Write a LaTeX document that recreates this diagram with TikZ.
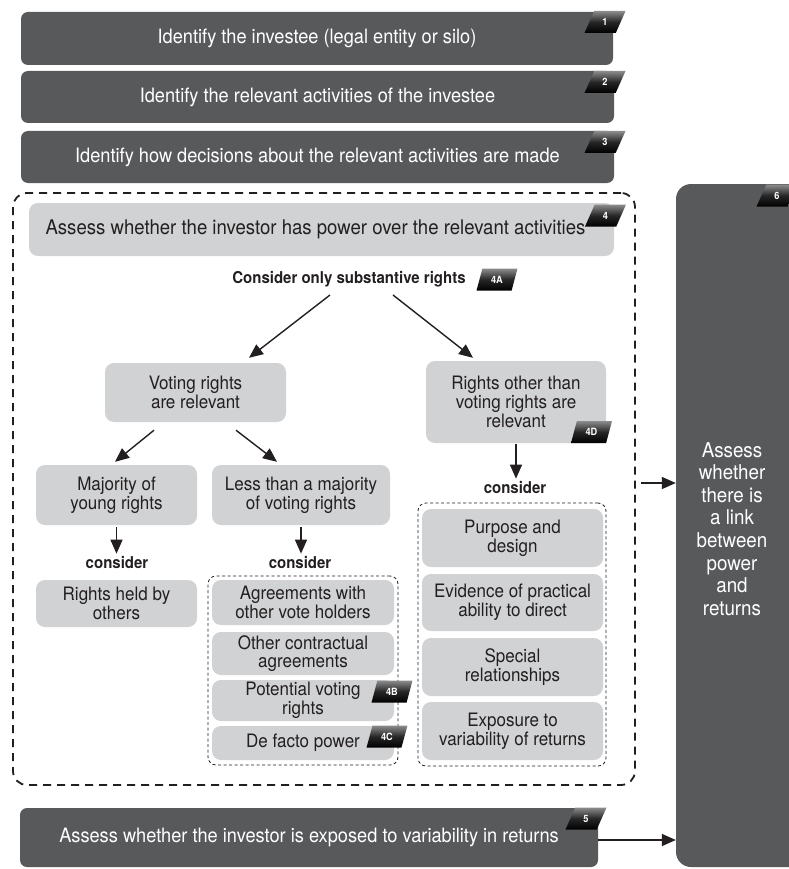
\documentclass[tikz,border=0pt]{standalone}
\usepackage{fontspec}
\setmainfont[FakeStretch=0.92]{TeX Gyre Heros}
\usetikzlibrary{arrows.meta,shapes.geometric}
\definecolor{darkbox}{HTML}{58595B}
\definecolor{lightbox}{HTML}{D1D2D4}
\definecolor{ink}{HTML}{231F20}
\begin{document}
\begin{tikzpicture}[x=1pt,y=-1pt,
 dbox/.style={fill=darkbox, rounded corners=7pt, text=white, font=\fontsize{19.8}{22}\selectfont, inner sep=0pt, align=center},
 lbox/.style={fill=lightbox, rounded corners=9pt, text=ink, font=\fontsize{18.5}{18.8}\selectfont, inner sep=0pt, align=center},
 btext/.style={font=\bfseries\fontsize{16.3}{18}\selectfont, text=ink, inner sep=0pt},
 tagbox/.style={trapezium, trapezium left angle=72, trapezium right angle=108, trapezium stretches=true, minimum width=41pt, minimum height=22pt, inner sep=0pt, top color=black!45, bottom color=black, middle color=black!85, text=white, font=\bfseries\fontsize{10}{10}\selectfont},
 arr/.style={-{Triangle[length=14pt,width=12pt]}, line width=1.4pt, draw=ink},
 bigdash/.style={draw=ink, line width=1.8pt, dash pattern=on 8pt off 6pt, rounded corners=14pt},
 smalldash/.style={draw=ink, line width=0.8pt, dash pattern=on 3pt off 2.5pt, rounded corners=8pt},
]
\useasboundingbox (0,0) rectangle (788,869);
\fill[white] (0,0) rectangle (788,869);

% top dark boxes
\node[dbox, minimum width=592pt, minimum height=53pt] (b1) at (317,38.5) {Identify the investee (legal entity or silo)};
\node[dbox, minimum width=593pt, minimum height=52pt] (b2) at (317.5,97) {Identify the relevant activities of the investee};
\node[dbox, minimum width=593pt, minimum height=52pt] (b3) at (317.5,157) {Identify how decisions about the relevant activities are made};

% big dashed group
\node[bigdash, minimum width=622pt, minimum height=592pt] (grp) at (324,489) {};
\node[lbox, font=\fontsize{20.2}{22}\selectfont, minimum width=585pt, minimum height=53pt] (b4) at (321.5,229.5) {Assess whether the investor has power over the relevant activities\hspace*{12pt}};
\node[btext] (cons) at (349,279) {Consider only substantive rights};

\node[lbox, minimum width=181pt, minimum height=59pt] (voting) at (195.5,392.5) {Voting rights\\are relevant};
\node[lbox, minimum width=180pt, minimum height=82pt] (other) at (516,402) {Rights other than\\voting rights are\\relevant};
\node[lbox, minimum width=161pt, minimum height=60pt] (major) at (116.5,495) {Majority of\\young rights};
\node[lbox, minimum width=178pt, minimum height=60pt] (less) at (301,495) {Less than a majority\\of voting rights};
\node[btext] (c1) at (117,562) {consider};
\node[btext] (c2) at (300,562) {consider};
\node[btext] (c3) at (515,487) {consider};
\node[lbox, minimum width=161pt, minimum height=47pt] (held) at (116.5,603.5) {Rights held by\\others};

\node[smalldash, minimum width=190pt, minimum height=189pt] (g2) at (303,670.5) {};
\node[lbox, minimum width=182pt, minimum height=45pt] (agree) at (303,602.5) {Agreements with\\other vote holders};
\node[lbox, minimum width=182pt, minimum height=43pt] (contr) at (303,653.5) {Other contractual\\agreements};
\node[lbox, minimum width=182pt, minimum height=41pt] (pot) at (303,700.5) {Potential voting\\rights};
\node[lbox, minimum width=182pt, minimum height=34pt] (defacto) at (303,743) {De facto power};

\node[smalldash, minimum width=188pt, minimum height=263pt] (g3) at (512,634.5) {};
\node[lbox, minimum width=181pt, minimum height=58pt] (purpose) at (512.5,538) {Purpose and\\design};
\node[lbox, minimum width=181pt, minimum height=57pt] (evid) at (512.5,602.5) {Evidence of practical\\ability to direct};
\node[lbox, minimum width=181pt, minimum height=58pt] (special) at (512.5,667) {Special\\relationships};
\node[lbox, minimum width=181pt, minimum height=58pt] (expo) at (512.5,731) {Exposure to\\variability of returns};

% right and bottom dark boxes
\node[dbox, rounded corners=15pt, minimum width=136pt, minimum height=683pt] (b6) at (744,525.5) {};
\node[text=white, font=\fontsize{20.4}{22.6}\selectfont, align=center, inner sep=0pt] (b6t) at (732,529) {Assess\\whether\\there is\\a link\\between\\power\\and\\returns};
\node[dbox, minimum width=578pt, minimum height=59pt] (b5) at (309,837.5) {Assess whether the investor is exposed to variability in returns};

% tags
\node[tagbox] (t1) at (605,22) {1};
\node[tagbox] (t2) at (605,82) {2};
\node[tagbox] (t3) at (605,142) {3};
\node[tagbox] (t4) at (605.5,215.5) {4};
\node[tagbox] (t4a) at (497,279.5) {4A};
\node[tagbox] (t4d) at (591.5,432) {4D};
\node[tagbox] (t4b) at (392,691.5) {4B};
\node[tagbox] (t4c) at (387,736.5) {4C};
\node[tagbox] (t5) at (586,818.5) {5};
\node[tagbox] (t6) at (777,195.5) {6};

% arrows
\draw[arr] ([xshift=-19pt,yshift=-16pt]cons.center) -- ([xshift=53.5pt,yshift=5pt]voting.north);
\draw[arr] ([xshift=44pt,yshift=-16pt]cons.center) -- ([xshift=-43pt,yshift=3pt]other.north);
\draw[arr] ([xshift=-41.5pt,yshift=-8pt]voting.south) -- ([xshift=-1.5pt,yshift=3pt]major.north);
\draw[arr] ([xshift=40.5pt,yshift=-8pt]voting.south) -- ([xshift=-24pt,yshift=3pt]less.north);
\draw[arr] ([yshift=-2pt]major.south) -- ([yshift=2pt]major.south |- c1.north);
\draw[arr] ([yshift=-2pt]less.south) -- ([yshift=2pt]less.south |- c2.north);
\draw[arr] ([yshift=-1pt]other.south) -- ([yshift=2pt]other.south |- c3.north);
\draw[arr] ([yshift=6pt,xshift=5pt]grp.east) -- ([yshift=6pt]grp.east -| b6.west);
\draw[arr] ([yshift=-2.5pt]b5.east) -- ([yshift=-2.5pt]b5.east -| b6.west);
\end{tikzpicture}
\end{document}
